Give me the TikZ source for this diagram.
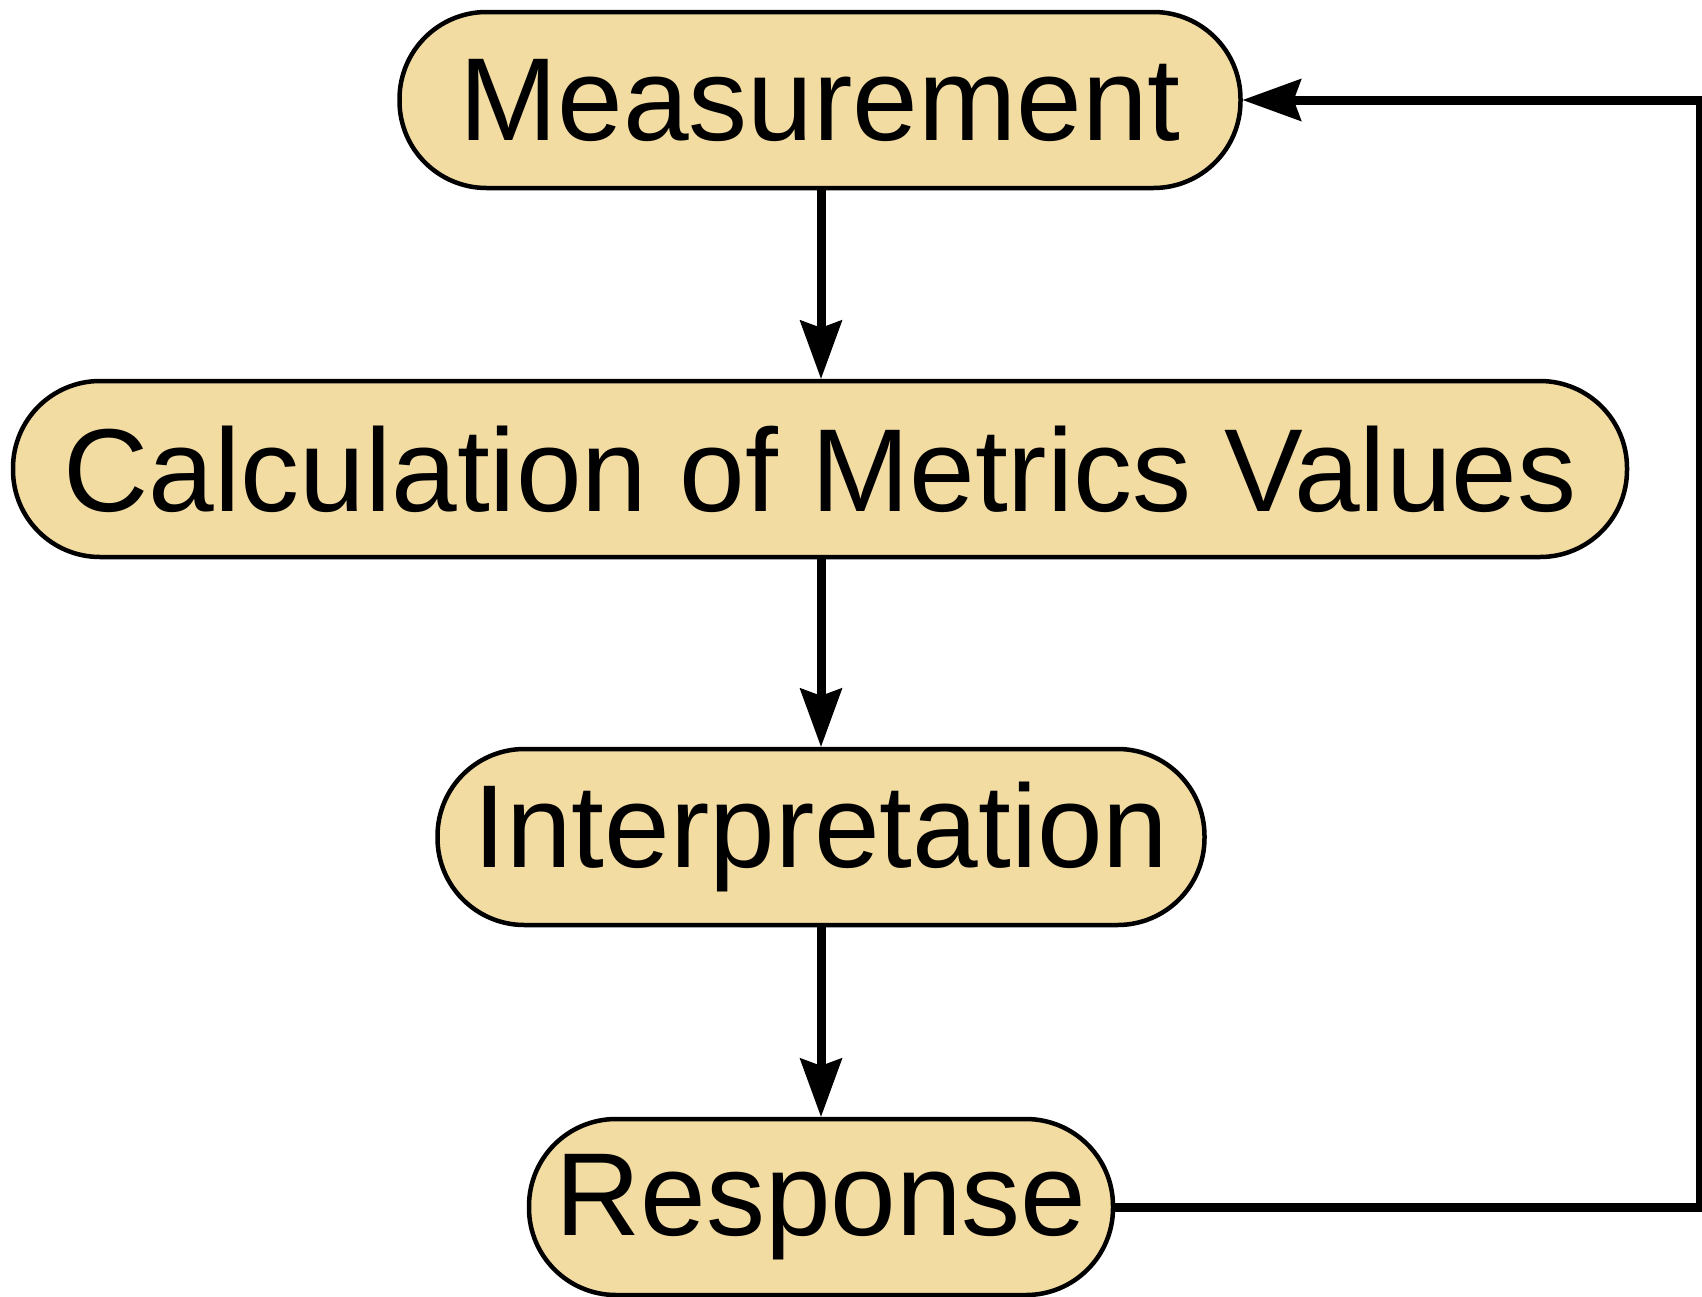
\documentclass[tikz,border=0pt]{standalone}
\usepackage{fontspec}
\setmainfont{Liberation Sans}
\definecolor{stagefill}{HTML}{F2DCA2}
\tikzset{
  stage/.style={draw=black, line width=4.5pt, fill=stagefill, rectangle,
    rounded corners=87pt, minimum height=176pt, inner sep=0pt,
    font=\fontsize{118}{132}\selectfont},
  flow/.style={line width=9pt, shorten >=30pt},
  arrowhead/.style={fill=black}
}
\begin{document}
\begin{tikzpicture}[x=1pt,y=-1pt]
  \useasboundingbox (0,0) rectangle (1702,1296);
  \begin{scope}
    \clip (0,0) rectangle (1702,1296);
    % process stages
    \node[stage, minimum width=841pt] (meas) at (820,100) {Measurement};
    \node[stage, minimum width=1614pt] (calc) at (820,469) {Calculation of Metrics Values};
    \node[stage, minimum width=767pt] (interp) at (821,837) {Interpretation};
    \node[stage, minimum width=584pt] (resp) at (821,1207) {Response};
    \coordinate (loop) at (1700,1207);
    \coordinate (t1) at (calc.north -| 821,0);
    \coordinate (t2) at (interp.north -| 821,0);
    \coordinate (t3) at (resp.north -| 821,0);

    % connectors
    \draw[flow] (meas.south -| 821,0) -- (t1);
    \draw[flow] (calc.south -| 821,0) -- (t2);
    \draw[flow] (interp.south -| 821,0) -- (t3);
    \draw[flow] (resp.east) -- (loop) |- (meas.east);

    % arrowheads
    \foreach \t in {t1,t2,t3}
      \fill[arrowhead] (\t) -- ++(-21.5,-59) -- ++(21.5,8) -- ++(21.5,-8) -- cycle;
    \fill[arrowhead] (meas.east) -- ++(59,-21.5) -- ++(-8,21.5) -- ++(8,21.5) -- cycle;
  \end{scope}
\end{tikzpicture}
\end{document}
